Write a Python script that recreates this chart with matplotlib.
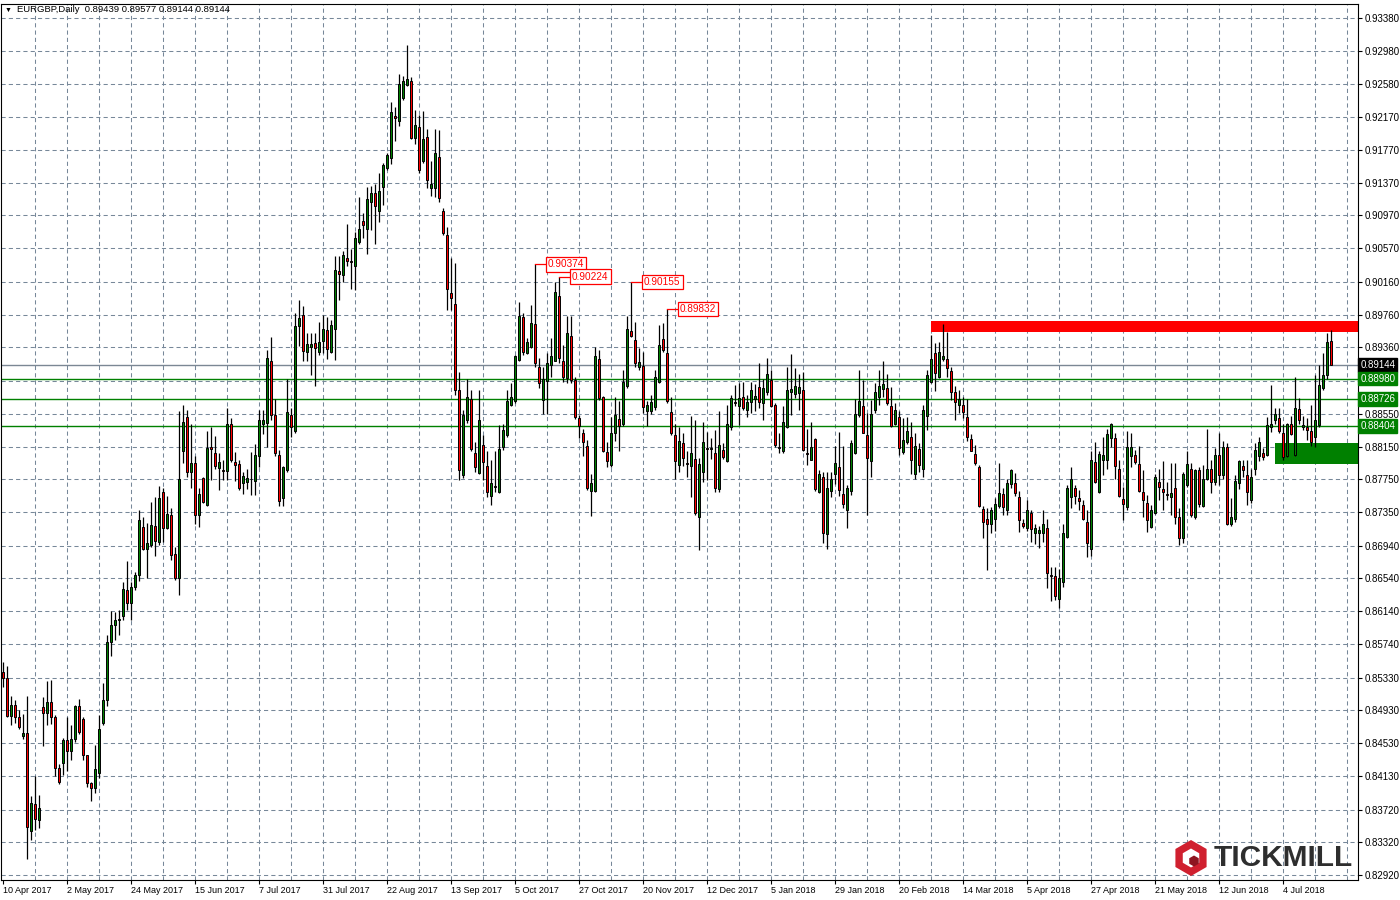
#%% librerias
import numpy as np
import matplotlib.pyplot as plt
import matplotlib.transforms as mtransforms
from matplotlib.patches import Rectangle, RegularPolygon

plt.rcParams['font.family'] = ['Liberation Sans', 'DejaVu Sans']

#%% datos (velas diarias EURGBP, 10 Apr 2017 -> jul 2018)
title = 'EURGBP,Daily  0.89439 0.89577 0.89144 0.89144'

opens = [
    .8540, .8532, .8486, .8500, .8485, .8462, .8465, .8346, .8379, .8359,
    .8497, .8490, .8503, .8485, .8423, .8429, .8457, .8444, .8458, .8498,
    .8482, .8438, .8404, .8398, .8416, .8478, .8506, .8577, .8597, .8603,
    .8608, .8640, .8624, .8643, .8658, .8717, .8690, .8695, .8718, .8699,
    .8760, .8715, .8731, .8684, .8654, .8810, .8851, .8784, .8795, .8731,
    .8777, .8744, .8814, .8807, .8789, .8786, .8785, .8843, .8796, .8794,
    .8770, .8772, .8776, .8773, .8803, .8842, .8844, .8919, .8854, .8805,
    .8752, .8786, .8854, .8834, .8962, .8975, .8931, .8936, .8941, .8931,
    .8944, .8957, .8931, .8959, .9029, .9024, .9045, .9041, .9035, .9065,
    .9090, .9080, .9114, .9124, .9102, .9132, .9155, .9167, .9219, .9212,
    .9241, .9256, .9261, .9191, .9205, .9163, .9193, .9131, .9131, .9168,
    .9103, .9073, .9002, .8989, .8884, .8780, .8847, .8873, .8807, .8783,
    .8817, .8791, .8755, .8767, .8759, .8814, .8829, .8866, .8871, .8921,
    .8973, .8929, .8937, .8965, .8912, .8872, .8895, .8915, .8920, .8999,
    .8919, .8899, .8950, .8896, .8850, .8832, .8816, .8761, .8761, .8922,
    .8876, .8808, .8792, .8832, .8849, .8842, .8889, .8956, .8945, .8912,
    .8913, .8859, .8858, .8863, .8894, .8946, .8929, .8857, .8829, .8792,
    .8819, .8795, .8791, .8800, .8729, .8784, .8813, .8812, .8807, .8763,
    .8811, .8797, .8839, .8869, .8864, .8875, .8860, .8869, .8873, .8888,
    .8868, .8882, .8896, .8866, .8814, .8809, .8839, .8881, .8879, .8880,
    .8884, .8807, .8799, .8824, .8759, .8778, .8708, .8761, .8781, .8790,
    .8757, .8738, .8761, .8807, .8853, .8864, .8829, .8797, .8860, .8876,
    .8885, .8886, .8864, .8843, .8851, .8808, .8820, .8827, .8782, .8812,
    .8787, .8852, .8894, .8929, .8900, .8922, .8922, .8907, .8882, .8866,
    .8866, .8851, .8824, .8806, .8790, .8739, .8726, .8721, .8726, .8742,
    .8757, .8737, .8769, .8770, .8753, .8722, .8715, .8734, .8709, .8710,
    .8709, .8715, .8658, .8657, .8629, .8650, .8705, .8754, .8765, .8752,
    .8744, .8723, .8690, .8796, .8760, .8799, .8799, .8826, .8825, .8787,
    .8751, .8741, .8803, .8805, .8794, .8760, .8746, .8717, .8734, .8772,
    .8763, .8757, .8754, .8764, .8729, .8703, .8768, .8787, .8729, .8786,
    .8742, .8775, .8788, .8772, .8805, .8780, .8814, .8721, .8727, .8770,
    .8791, .8780, .8750, .8788, .8803, .8807, .8805, .8839, .8848, .8850,
    .8831, .8803, .8843, .8805, .8861, .8839, .8839, .8834, .8827, .8841,
    .8886, .8902, .89439]

highs = [
    .8552, .8547, .8510, .8506, .8493, .8489, .8510, .8388, .8413, .8390,
    .8509, .8529, .8530, .8487, .8428, .8459, .8485, .8475, .8500, .8507,
    .8485, .8439, .8406, .8451, .8487, .8526, .8585, .8614, .8613, .8615,
    .8650, .8675, .8650, .8662, .8738, .8729, .8722, .8747, .8754, .8767,
    .8764, .8755, .8740, .8693, .8858, .8866, .8860, .8843, .8803, .8764,
    .8778, .8834, .8839, .8828, .8807, .8799, .8862, .8850, .8808, .8799,
    .8784, .8788, .8808, .8818, .8860, .8860, .8933, .8949, .8873, .8811,
    .8791, .8897, .8862, .8978, .8994, .8986, .8953, .8954, .8954, .8967,
    .8976, .8973, .8970, .9048, .9048, .9054, .9087, .9056, .9077, .9119,
    .9100, .9132, .9133, .9135, .9149, .9161, .9173, .9236, .9230, .9270,
    .9267, .9305, .9266, .9226, .9220, .9225, .9202, .9164, .9202, .9201,
    .9106, .9083, .9045, .9039, .8906, .8860, .8898, .8884, .8820, .8884,
    .8829, .8809, .8799, .8809, .8841, .8843, .8884, .8892, .8927, .8992,
    .8978, .8948, .8988, .90374, .8923, .8912, .8929, .8947, .9016, .90224,
    .8939, .8974, .8974, .8900, .8854, .8836, .8823, .8782, .8937, .8933,
    .8877, .8820, .8851, .8876, .8870, .8908, .8974, .90155, .8967, .8935,
    .8930, .8870, .8878, .8908, .8963, .8966, .89832, .8876, .8843, .8839,
    .8831, .8809, .8852, .8847, .8801, .8845, .8833, .8825, .8835, .8859,
    .8819, .8866, .8878, .8890, .8892, .8894, .8878, .8894, .8891, .8917,
    .8897, .8923, .8908, .8868, .8832, .8864, .8912, .8928, .8911, .8904,
    .8906, .8836, .8845, .8825, .8786, .8784, .8784, .8784, .8816, .8833,
    .8816, .8768, .8823, .8873, .8909, .8896, .8856, .8872, .8892, .8909,
    .8920, .8904, .8888, .8868, .8858, .8850, .8851, .8845, .8831, .8819,
    .8866, .8908, .8951, .8941, .8942, .8965, .8955, .8912, .8889, .8884,
    .8875, .8873, .8830, .8817, .8793, .8742, .8740, .8741, .8752, .8795,
    .8764, .8775, .8788, .8783, .8761, .8727, .8750, .8738, .8721, .8718,
    .8738, .8727, .8668, .8668, .8666, .8721, .8768, .8790, .8768, .8762,
    .8750, .8738, .8809, .8821, .8810, .8827, .8836, .8844, .8831, .8799,
    .8766, .8834, .8831, .8811, .8816, .8786, .8756, .8744, .8782, .8787,
    .8797, .8772, .8795, .8795, .8740, .8784, .8809, .8795, .8787, .8790,
    .8793, .8836, .8798, .8813, .8831, .8822, .8819, .8752, .8780, .8799,
    .8799, .8799, .8788, .8819, .8827, .8813, .8851, .8890, .8862, .8862,
    .8843, .8844, .8852, .8900, .8874, .8852, .8850, .8866, .8902, .8915,
    .8929, .8953, .89577]

lows = [
    .8522, .8485, .8475, .8478, .8470, .8458, .8312, .8335, .8347, .8350,
    .8449, .8475, .8477, .8413, .8403, .8414, .8419, .8432, .8454, .8464,
    .8432, .8399, .8382, .8392, .8410, .8475, .8498, .8559, .8579, .8585,
    .8603, .8616, .8603, .8640, .8651, .8689, .8654, .8693, .8681, .8695,
    .8699, .8714, .8676, .8652, .8634, .8795, .8778, .8764, .8720, .8717,
    .8746, .8742, .8774, .8788, .8762, .8774, .8774, .8796, .8773, .8762,
    .8757, .8763, .8756, .8756, .8790, .8830, .8814, .8847, .8803, .8742,
    .8742, .8784, .8827, .8832, .8938, .8919, .8919, .8902, .8889, .8927,
    .8929, .8922, .8929, .8921, .8994, .9016, .9035, .9007, .9006, .9062,
    .9069, .9050, .9079, .9062, .9089, .9110, .9153, .9160, .9188, .9206,
    .9238, .9255, .9190, .9184, .9149, .9161, .9130, .9121, .9120, .9114,
    .9073, .8982, .8982, .8878, .8774, .8777, .8844, .8809, .8784, .8781,
    .8774, .8754, .8744, .8760, .8758, .8811, .8827, .8864, .8868, .8919,
    .8927, .8928, .8935, .8912, .8886, .8855, .8855, .8900, .8919, .8917,
    .8894, .8893, .8892, .8849, .8825, .8803, .8762, .8730, .8760, .8872,
    .8808, .8790, .8790, .8822, .8810, .8840, .8887, .8949, .8912, .8908,
    .8856, .8840, .8855, .8860, .8892, .8931, .8868, .8829, .8775, .8784,
    .8791, .8778, .8754, .8732, .8689, .8772, .8774, .8800, .8759, .8759,
    .8800, .8796, .8835, .8864, .8841, .8860, .8851, .8856, .8858, .8862,
    .8847, .8878, .8863, .8814, .8807, .8807, .8838, .8854, .8874, .8860,
    .8809, .8793, .8798, .8761, .8758, .8697, .8690, .8754, .8769, .8755,
    .8740, .8715, .8756, .8806, .8851, .8831, .8731, .8778, .8856, .8866,
    .8875, .8866, .8839, .8841, .8805, .8806, .8818, .8782, .8775, .8784,
    .8778, .8835, .8892, .8883, .8899, .8920, .8900, .8872, .8848, .8856,
    .8850, .8822, .8809, .8793, .8741, .8703, .8664, .8709, .8712, .8740,
    .8731, .8731, .8765, .8755, .8711, .8715, .8712, .8699, .8696, .8691,
    .8698, .8642, .8626, .8628, .8618, .8644, .8704, .8740, .8745, .8738,
    .8725, .8680, .8681, .8770, .8758, .8780, .8788, .8814, .8776, .8753,
    .8725, .8738, .8790, .8794, .8760, .8729, .8711, .8716, .8733, .8750,
    .8738, .8750, .8731, .8721, .8695, .8697, .8766, .8729, .8727, .8741,
    .8741, .8774, .8758, .8768, .8768, .8776, .8719, .8718, .8723, .8763,
    .8778, .8744, .8746, .8780, .8797, .8799, .8803, .8833, .8843, .8832,
    .8799, .8802, .8829, .8803, .8843, .8835, .8823, .8816, .8815, .8839,
    .8884, .8898, .89144]

closes = [
    .8532, .8486, .8500, .8485, .8473, .8466, .8351, .8380, .8361, .8374,
    .8490, .8503, .8485, .8423, .8406, .8457, .8444, .8458, .8498, .8467,
    .8438, .8404, .8398, .8422, .8470, .8506, .8577, .8597, .8603, .8605,
    .8641, .8624, .8643, .8658, .8725, .8690, .8697, .8719, .8700, .8752,
    .8715, .8733, .8683, .8654, .8775, .8845, .8784, .8795, .8731, .8757,
    .8747, .8813, .8812, .8791, .8796, .8785, .8843, .8799, .8793, .8765,
    .8779, .8777, .8775, .8805, .8847, .8848, .8923, .8854, .8807, .8749,
    .8790, .8857, .8839, .8962, .8972, .8932, .8940, .8940, .8935, .8942,
    .8958, .8934, .8963, .9031, .9025, .9049, .9042, .9040, .9070, .9080,
    .9085, .9117, .9125, .9108, .9127, .9159, .9171, .9223, .9216, .9258,
    .9261, .9264, .9192, .9208, .9152, .9190, .9140, .9136, .9173, .9118,
    .9076, .9007, .8996, .8884, .8786, .8854, .8876, .8812, .8790, .8848,
    .8796, .8759, .8771, .8766, .8812, .8835, .8870, .8876, .8925, .8974,
    .8931, .8943, .8966, .8917, .8892, .8898, .8917, .8926, .9004, .8923,
    .8900, .8953, .8896, .8851, .8840, .8820, .8764, .8770, .8925, .8874,
    .8810, .8797, .8832, .8853, .8840, .8894, .8959, .8950, .8917, .8918,
    .8863, .8866, .8869, .8900, .8939, .8933, .8870, .8831, .8797, .8822,
    .8801, .8794, .8807, .8734, .8794, .8820, .8812, .8813, .8765, .8817,
    .8802, .8842, .8874, .8868, .8874, .8862, .8869, .8884, .8877, .8869,
    .8886, .8904, .8865, .8817, .8813, .8845, .8884, .8885, .8889, .8888,
    .8811, .8806, .8815, .8763, .8782, .8709, .8764, .8776, .8795, .8762,
    .8745, .8764, .8819, .8855, .8871, .8832, .8801, .8855, .8881, .8889,
    .8891, .8868, .8840, .8860, .8813, .8823, .8834, .8799, .8816, .8792,
    .8860, .8902, .8922, .8905, .8930, .8926, .8911, .8882, .8869, .8873,
    .8857, .8827, .8810, .8795, .8743, .8723, .8721, .8738, .8745, .8758,
    .8741, .8770, .8786, .8758, .8725, .8718, .8738, .8714, .8716, .8713,
    .8721, .8661, .8657, .8632, .8654, .8710, .8764, .8775, .8755, .8749,
    .8727, .8697, .8799, .8772, .8806, .8805, .8830, .8843, .8791, .8755,
    .8745, .8814, .8814, .8796, .8761, .8750, .8725, .8737, .8778, .8766,
    .8760, .8756, .8758, .8729, .8703, .8782, .8794, .8731, .8786, .8745,
    .8776, .8788, .8772, .8805, .8780, .8815, .8721, .8729, .8773, .8797,
    .8786, .8760, .8778, .8811, .8821, .8802, .8841, .8843, .8855, .8834,
    .8802, .8843, .8830, .8862, .8848, .8841, .8835, .8820, .8847, .8890,
    .8902, .8943, .89144]

date_labels = ['10 Apr 2017', '2 May 2017', '24 May 2017', '15 Jun 2017', '7 Jul 2017',
               '31 Jul 2017', '22 Aug 2017', '13 Sep 2017', '5 Oct 2017', '27 Oct 2017',
               '20 Nov 2017', '12 Dec 2017', '5 Jan 2018', '29 Jan 2018', '20 Feb 2018',
               '14 Mar 2018', '5 Apr 2018', '27 Apr 2018', '21 May 2018', '12 Jun 2018',
               '4 Jul 2018']

price_ticks = [0.93380, 0.92980, 0.92580, 0.92170, 0.91770, 0.91370, 0.90970, 0.90570,
               0.90160, 0.89760, 0.89360, 0.88955, 0.88550, 0.88150, 0.87750, 0.87350,
               0.86940, 0.86540, 0.86140, 0.85740, 0.85330, 0.84930, 0.84530, 0.84130,
               0.83720, 0.83320, 0.82920]
hidden_tick = 0.88955   # queda tapado por la etiqueta verde

bid = 0.89144
levels = [0.88980, 0.88726, 0.88404]
peak_bars = [133, 139, 157, 166]          # maximos marcados en rojo
res_zone = [0.89548, 0.89682]; res_start = 232
sup_zone = [0.87937, 0.88193]; sup_start = 318

#%% figura
o = np.array(opens); h = np.array(highs); l = np.array(lows); c = np.array(closes)
x = np.arange(len(c))
n_grid = 338

fig = plt.figure(figsize=(14, 9), dpi=100)
ax = fig.add_axes([1/1400, 20/900, 1357/1400, 876/900])
ax.set_xlim(-0.5, 338.75)
ax.set_ylim(0.82860, 0.935512)

# grilla estilo MT4
gkw = dict(color='#778899', lw=0.75, linestyle=(0, (4, 3)))
for yy in price_ticks:
    ax.axhline(yy, zorder=0, **gkw)
for xx in range(8, n_grid, 8):
    ax.axvline(xx, zorder=0, **gkw)

# zonas
ax.add_patch(Rectangle((res_start, res_zone[0]), 400, res_zone[1] - res_zone[0],
                       fc='#ff0000', ec='none', zorder=1))
ax.add_patch(Rectangle((sup_start, sup_zone[0]), 400, sup_zone[1] - sup_zone[0],
                       fc='#008000', ec='none', zorder=1))

# lineas horizontales
ax.axhline(bid, color='#7b8794', lw=1.0, zorder=1.5)
for lv in levels:
    ax.axhline(lv, color='#008000', lw=1.0, zorder=1.5)

# velas
up = c >= o
ax.vlines(x, l, h, color='black', lw=0.9, zorder=3)
ax.bar(x, np.abs(c - o), bottom=np.minimum(o, c), width=0.72,
       color=np.where(up, '#008000', '#ff0000'), edgecolor='black', linewidth=0.7, zorder=4)

# etiquetas de maximos
for i in peak_bars:
    v = highs[i]
    ax.plot([i, i + 2.9], [v, v], color='red', lw=0.9, zorder=5)
    ax.text(i + 3.2, v, f'{v:.5f}', ha='left', va='center', fontsize=7.2, color='red',
            bbox=dict(boxstyle='square,pad=0.22', fc='white', ec='red', lw=0.9), zorder=6)

# ejes
ax.yaxis.tick_right()
ax.set_yticks(price_ticks)
ax.set_yticklabels(['' if t == hidden_tick else f'{t:.5f}' for t in price_ticks])
ax.set_xticks(np.arange(len(date_labels)) * 16)
ax.set_xticklabels(date_labels, ha='left')
ax.tick_params(axis='y', length=3, width=0.8, labelsize=7, pad=2, colors='black')
ax.tick_params(axis='x', length=3, width=0.8, labelsize=6.5, pad=1.5, colors='black')
for sp in ax.spines.values():
    sp.set_color('black'); sp.set_linewidth(0.8)

# etiquetas de precio a la derecha
trans = mtransforms.blended_transform_factory(ax.transAxes, ax.transData)
for val, fc in [(bid, 'black')] + [(lv, '#008000') for lv in levels]:
    ax.text(1.0016, val, f'{val:.5f}', transform=trans, ha='left', va='center',
            fontsize=7, color='white', clip_on=False, zorder=10,
            bbox=dict(boxstyle='square,pad=0.2', fc=fc, ec=fc))

# titulo y logo (coordenadas en pixeles, origen arriba-izquierda)
px = mtransforms.Affine2D().scale(1/1400, -1/900).translate(0, 1) + fig.transFigure
fig.text(5, 10, '\u25BC', transform=px, fontsize=5, va='center', ha='left')
fig.text(17, 10, title, transform=px, fontsize=6.8, va='center', ha='left')

fig.add_artist(RegularPolygon((1191, 858), 6, radius=18, transform=px, fc='#d0202f', ec='none'))
fig.add_artist(RegularPolygon((1191, 858), 6, radius=9.5, transform=px, fc='white', ec='none'))
fig.add_artist(RegularPolygon((1194, 861), 6, radius=5.5, transform=px, fc='#8e1520', ec='none'))
fig.text(1214, 858, 'TICKMILL', transform=px, fontsize=21.5, fontweight='bold',
         color='#2e2e2e', va='center', ha='left')

plt.savefig('out.png', dpi=100)
